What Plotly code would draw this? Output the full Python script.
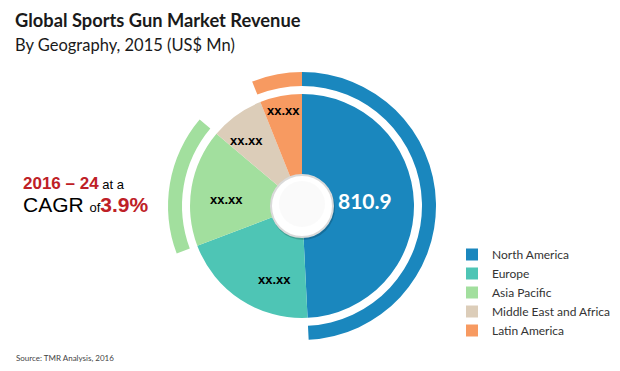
import plotly.graph_objects as go

# ---- data ----
regions = ["North America", "Europe", "Asia Pacific", "Middle East and Africa", "Latin America"]
revenue = [810.9, 330.0, 279.0, 128.0, 100.0]   # only North America is published; others
slice_labels = ["810.9", "xx.xx", "xx.xx", "xx.xx", "xx.xx"]
colors = ["#1A87BE", "#4EC5B5", "#A2DF9E", "#DCCDB9", "#F79A61"]
highlight = [True, False, True, False, True]   # regions with an outer ring
cagr_period = "2016 – 24"
cagr_value = "3.9%"

# page has an 8px body margin: size the figure so it fits the 620x371 window
OX, OY = 8, 8
W, H = 620 - OX, 371 - OY

def px(x):   # page x -> paper
    return (x - OX) / W

def py(y):   # page y (from top) -> paper
    return 1 - (y - OY) / H

cx, cy = 302, 206          # pie centre (page px)
r_in, r_ring_in, r_ring_out = 112, 120, 134
hole_r = 31

def dom(r):
    return dict(x=[px(cx - r), px(cx + r)], y=[py(cy + r), py(cy - r)])

fig = go.Figure()

fig.add_trace(go.Pie(
    labels=regions, values=revenue, sort=False, direction="clockwise", rotation=0,
    hole=0.26, domain=dom(r_in),
    marker=dict(colors=colors, line=dict(width=0)),
    textinfo="none", hoverinfo="label+value", showlegend=True,
))

ring_colors = [c if h else "rgba(0,0,0,0)" for c, h in zip(colors, highlight)]
fig.add_trace(go.Pie(
    labels=regions, values=revenue, sort=False, direction="clockwise", rotation=0,
    hole=r_ring_in / r_ring_out, domain=dom(r_ring_out),
    marker=dict(colors=ring_colors, line=dict(width=0)),
    textinfo="none", hoverinfo="skip", showlegend=False,
))

# centre button
def circ(r, dx=0, dy=0, **kw):
    return dict(type="circle", xref="paper", yref="paper",
                x0=px(cx + dx - r), x1=px(cx + dx + r),
                y0=py(cy + dy + r), y1=py(cy + dy - r), **kw)

shapes = [
    circ(hole_r + 1, dx=1, dy=2, fillcolor="rgba(0,0,0,0.18)", line=dict(width=0)),
    circ(hole_r, fillcolor="#FFFFFF", line=dict(color="#DADADA", width=2)),
    circ(hole_r - 8, dy=-2, fillcolor="#F6F6F6", line=dict(width=0), opacity=0.6),
]

# slice value labels
label_pos = [(365, 200), (274, 279), (226, 199), (246, 140), (283, 111)]
annotations = []
for i, (txt, (lx, ly)) in enumerate(zip(slice_labels, label_pos)):
    if i == 0:
        font = dict(family="Lato", size=21, color="white")
    else:
        font = dict(family="Arial", size=13, color="black")
    annotations.append(dict(x=px(lx), y=py(ly), xref="paper", yref="paper",
                            text=f"<b>{txt}</b>", showarrow=False, font=font,
                            xanchor="center", yanchor="middle"))

# titles
annotations += [
    dict(x=px(13), y=py(20), xref="paper", yref="paper", xanchor="left", yanchor="middle",
         text="<b>Global Sports Gun Market Revenue</b>", showarrow=False,
         font=dict(family="Lato", size=18.3, color="#1A1A1A")),
    dict(x=px(13), y=py(45), xref="paper", yref="paper", xanchor="left", yanchor="middle",
         text="By Geography, 2015 (US$ Mn)", showarrow=False,
         font=dict(family="Lato", size=16.5, color="#1A1A1A")),
    dict(x=px(21), y=py(183), xref="paper", yref="paper", xanchor="left", yanchor="middle",
         text=f"<b><span style='color:#BE2026;font-size:17px'>{cagr_period}</span></b> at a",
         showarrow=False, font=dict(family="Arial", size=13, color="black")),
    dict(x=px(21), y=py(204), xref="paper", yref="paper", xanchor="left", yanchor="middle",
         text=f"CAGR <span style='font-size:13px'>of</span><b><span style='color:#BE2026'>{cagr_value}</span></b>",
         showarrow=False, font=dict(family="Arial", size=21, color="black")),
    dict(x=px(14), y=py(358), xref="paper", yref="paper", xanchor="left", yanchor="middle",
         text="Source: TMR Analysis, 2016", showarrow=False,
         font=dict(family="Lato", size=8, color="#444444")),
]

fig.update_layout(
    width=W, height=H, margin=dict(l=0, r=0, t=0, b=0),
    paper_bgcolor="white", plot_bgcolor="white",
    shapes=shapes, annotations=annotations,
    legend=dict(x=px(452), y=py(240), xanchor="left", yanchor="top",
                font=dict(family="Lato", size=12, color="#333333"),
                bgcolor="rgba(0,0,0,0)", tracegroupgap=0),
)

fig.write_html("out.html")
